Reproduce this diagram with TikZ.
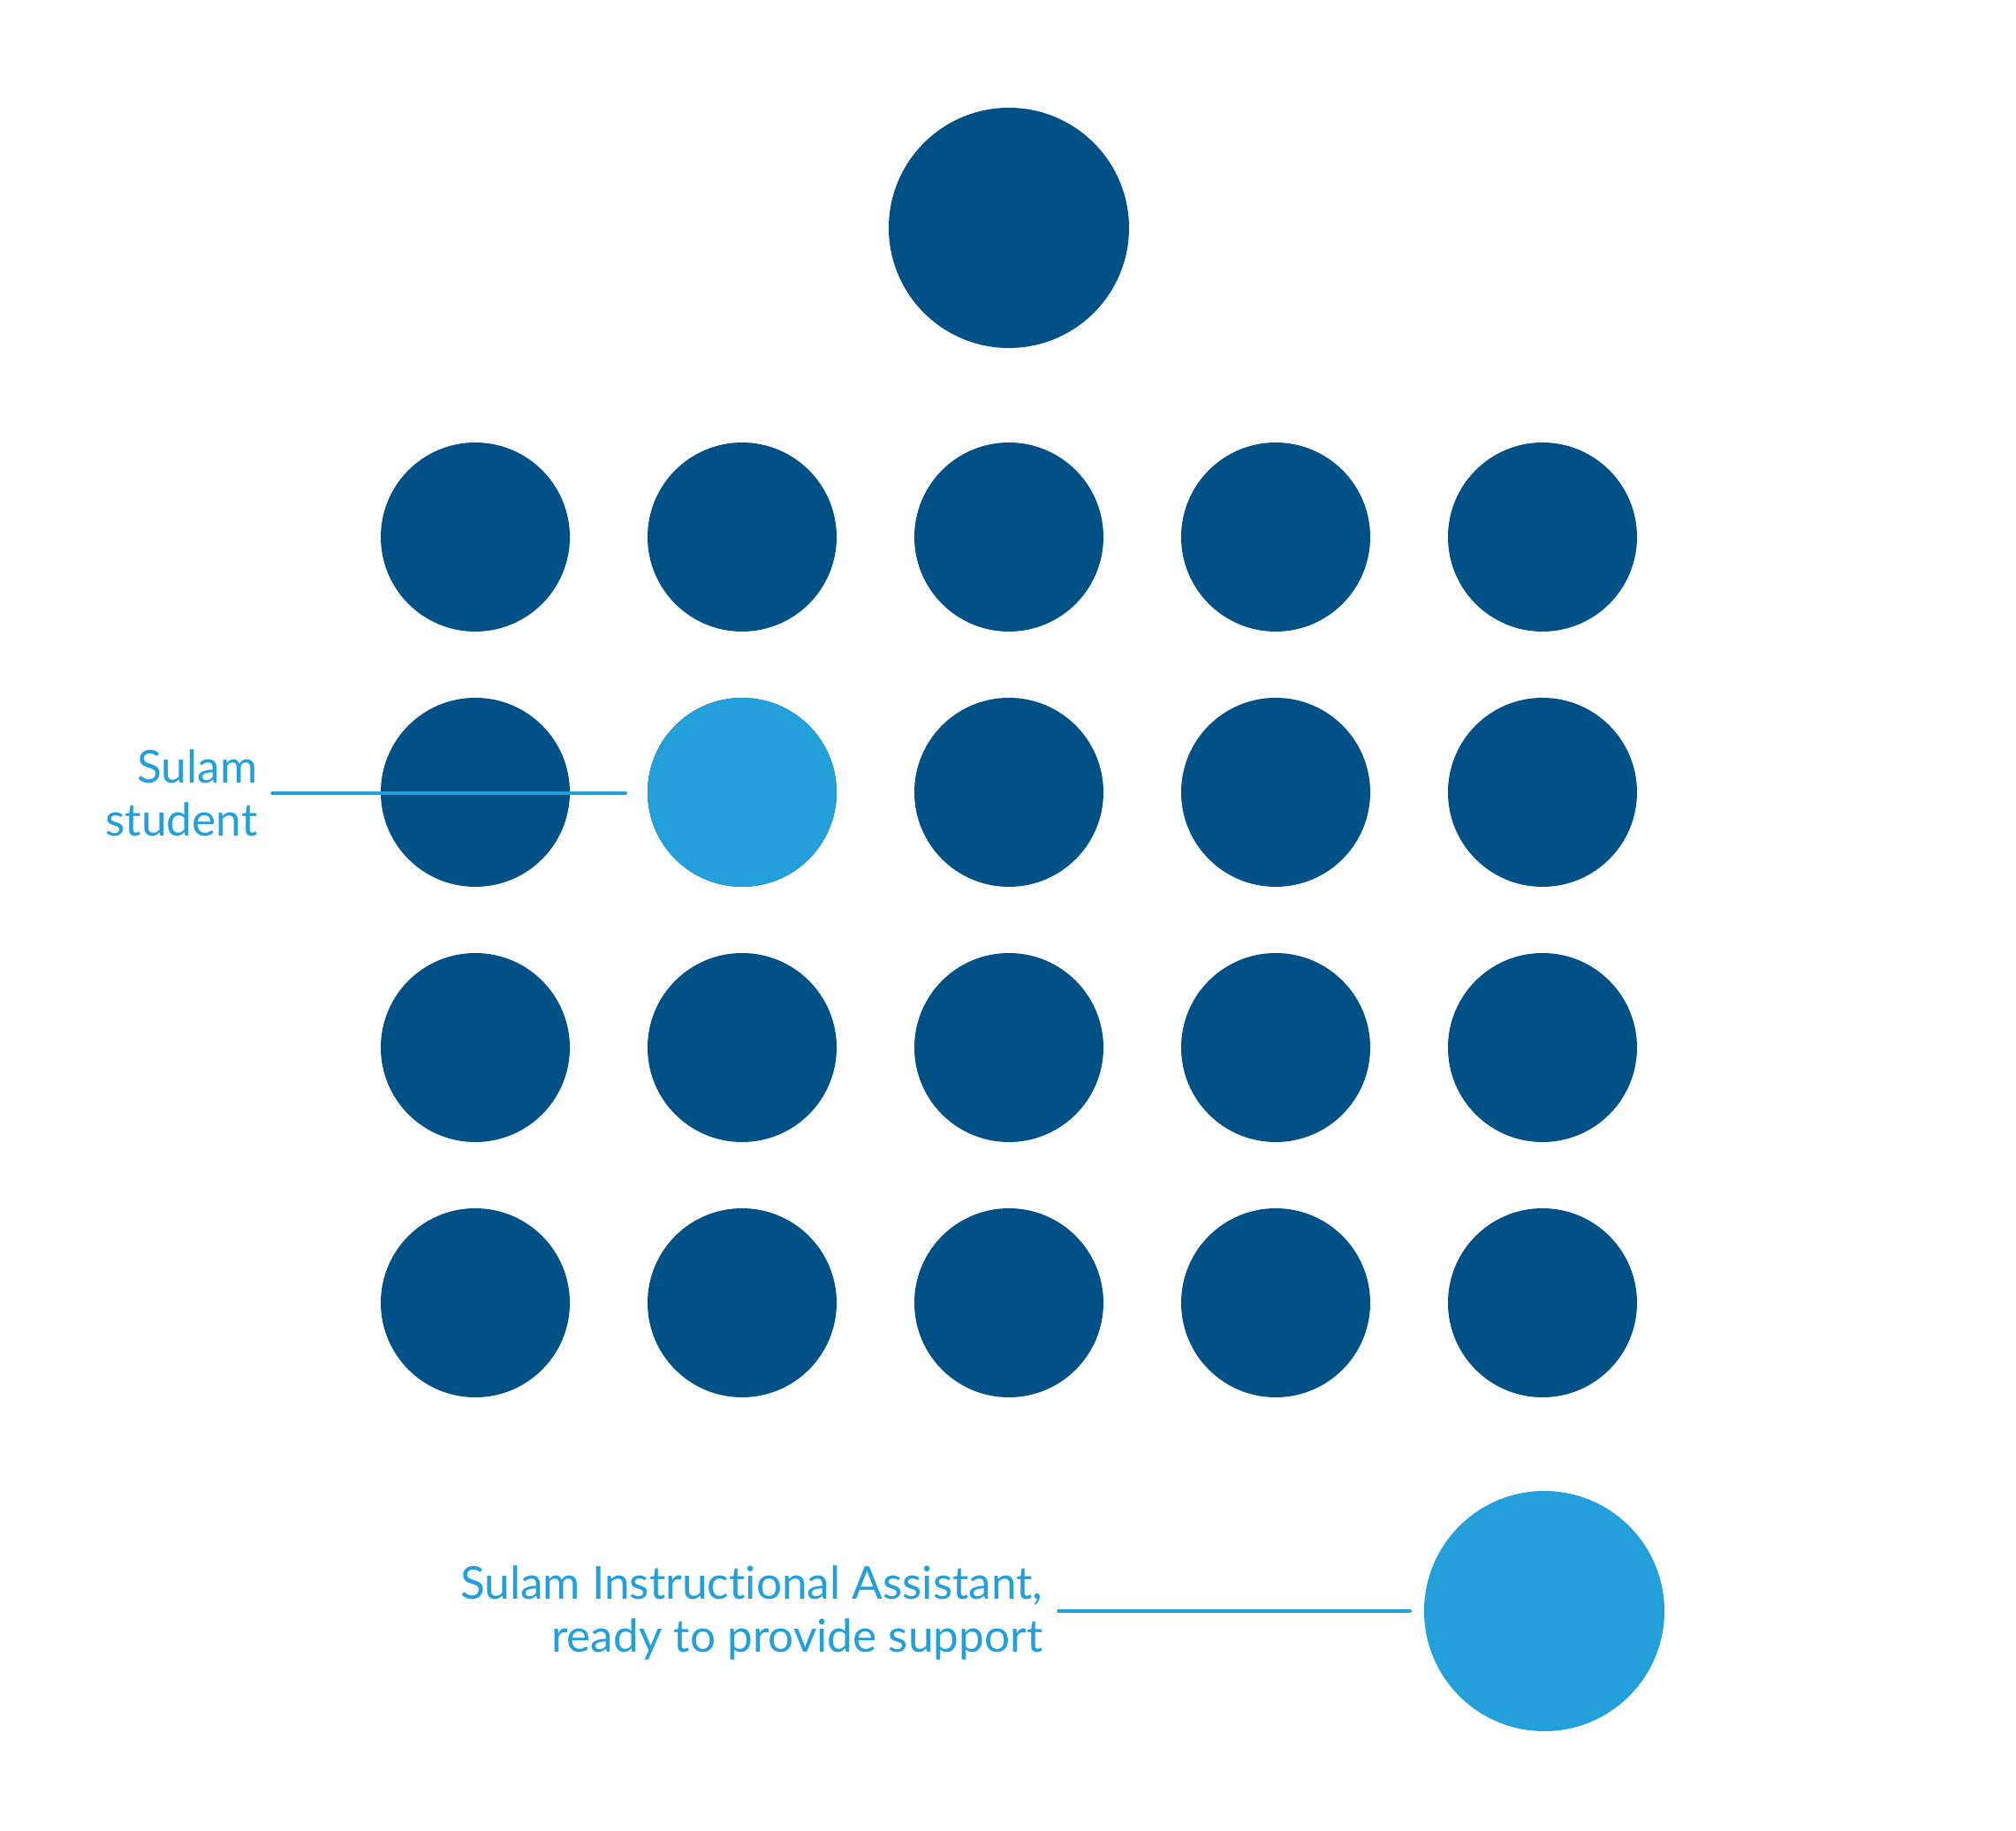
\documentclass[tikz,border=0pt]{standalone}
\usepackage{fontspec}
\setmainfont{Lato}[Ligatures={NoCommon}]
\usetikzlibrary{positioning}

\definecolor{sulamdark}{RGB}{2,81,134}
\definecolor{sulamlight}{RGB}{35,160,217}

\tikzset{
    dot/.style = {circle, fill = sulamdark, inner sep = 0pt,
                  minimum size = 2.14cm},
    bigdot/.style = {dot, minimum size = 2.72cm},
    callout/.style = {draw = sulamlight, line width = 0.95pt,
                      line cap = round},
    calltext/.style = {text = sulamlight, align = right, inner sep = 0pt,
                       font = \fontsize{14.6}{17.2}\selectfont}
}

\begin{document}
\begin{tikzpicture}[x=1cm,y=1cm]

    \useasboundingbox (0,0) rectangle (22.82,-20.73);

    \node[bigdot] (teacher) at (11.42,-2.58) {};

    \foreach \r/\ry in {1/6.08, 2/8.97, 3/11.86, 4/14.75}
        \foreach \c/\cx in {1/5.38, 2/8.40, 3/11.42, 4/14.44, 5/17.46}
            \node[dot] (s-\r-\c) at (\cx,-\ry) {};

    \node[dot,
          fill = sulamlight
          ] (student) at (s-2-2.center) {};

    \node[bigdot,
          fill = sulamlight
          ] (assistant) at (17.48,-18.24) {};

    \node[calltext,
          anchor = east
          ] (studentlbl) at (2.92,-8.98) {Sulam\\student};

    \node[calltext,
          anchor = east
          ] (assistantlbl) at (11.81,-18.26) {Sulam Instructional Assistant,\\ready to provide support};

    %callouts
    \draw[callout] ([xshift=0.16cm]studentlbl.east) -- ([xshift=-0.24cm]student.west |- studentlbl.east);
    \draw[callout] ([xshift=0.17cm]assistantlbl.east |- assistant.west) -- ([xshift=-0.15cm]assistant.west);

\end{tikzpicture}
\end{document}
